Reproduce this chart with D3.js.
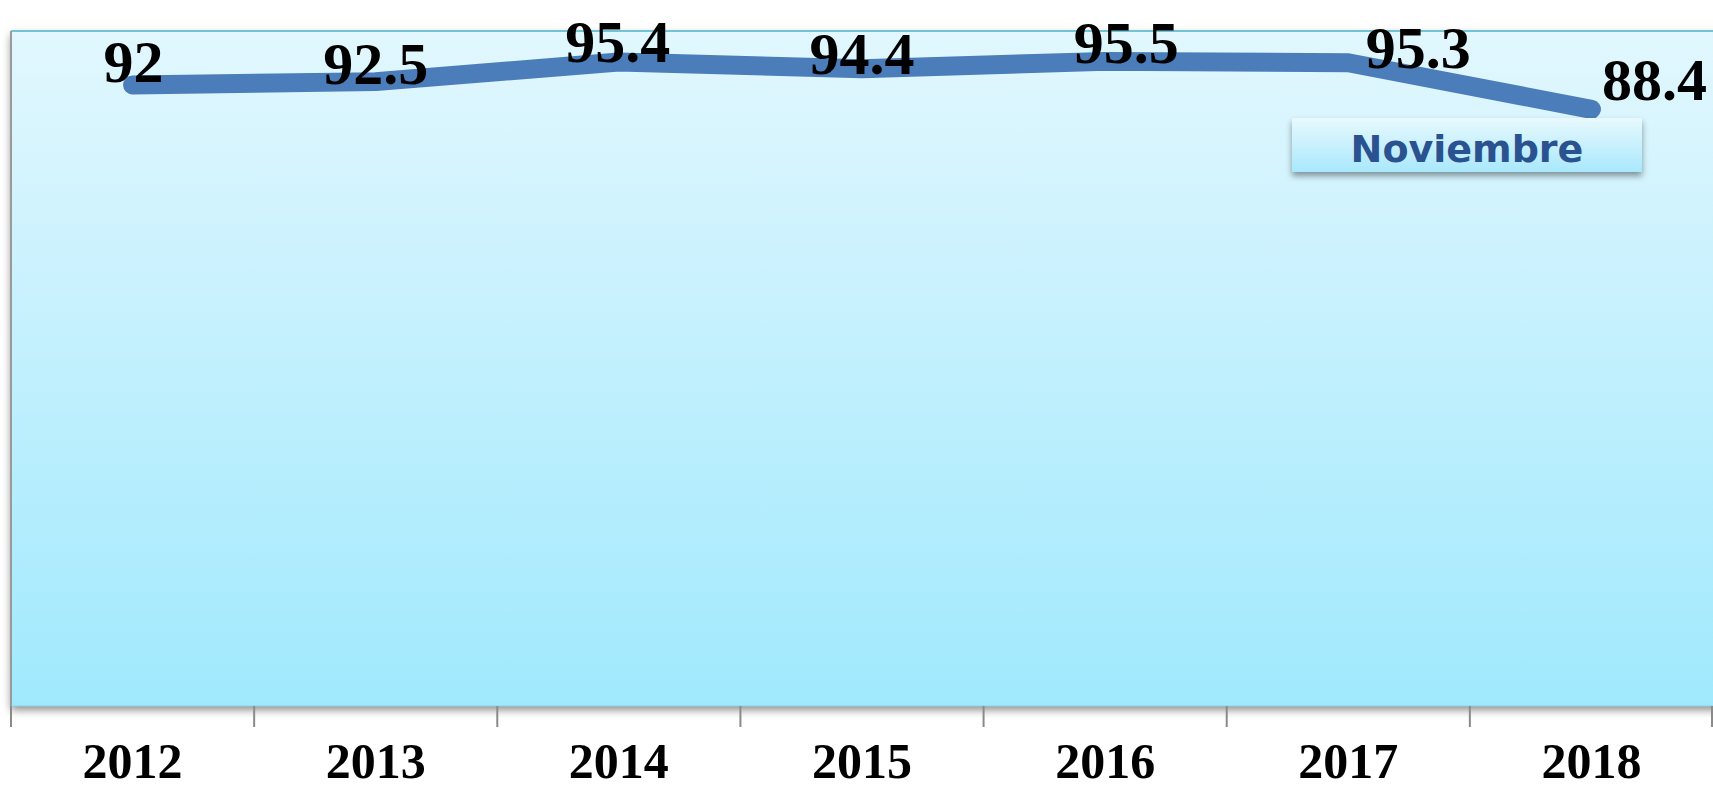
<!DOCTYPE html>
<html>
<head>
<meta charset="utf-8">
<script src="https://cdn.jsdelivr.net/npm/d3@7"></script>
<style>
  html, body { margin: 0; padding: 0; background: #ffffff; }
  svg { display: block; }
</style>
</head>
<body>
<svg id="chart" width="1713" height="790"></svg>
<script>
// ---- data ----
const years = ["2012", "2013", "2014", "2015", "2016", "2017", "2018"];
const values = [92, 92.5, 95.4, 94.4, 95.5, 95.3, 88.4];
const seriesName = "Noviembre";

// label nudges (layout only, px): [dx, dy]
const labelNudge = [[1, -3], [0, 2], [-1, 0], [0, 5], [21, 2], [70, 5], [63, -9]];

const W = 1713, H = 790;
const plot = { left: 11, top: 31, right: 1713, bottom: 706 };

const svg = d3.select("#chart");
const defs = svg.append("defs");

const bg = defs.append("linearGradient").attr("id", "bgGrad")
  .attr("x1", 0).attr("y1", 0).attr("x2", 0).attr("y2", 1);
bg.append("stop").attr("offset", "0%").attr("stop-color", "#e2f7fe");
bg.append("stop").attr("offset", "100%").attr("stop-color", "#a0e9fd");

const lg = defs.append("linearGradient").attr("id", "lgGrad")
  .attr("x1", 0).attr("y1", 0).attr("x2", 0).attr("y2", 1);
lg.append("stop").attr("offset", "0%").attr("stop-color", "#e8f9fe");
lg.append("stop").attr("offset", "100%").attr("stop-color", "#a9e8fc");

const sh = defs.append("filter").attr("id", "shadow")
  .attr("x", "-5%").attr("y", "-5%").attr("width", "110%").attr("height", "115%");
sh.append("feDropShadow").attr("dx", 0).attr("dy", 4).attr("stdDeviation", 4)
  .attr("flood-color", "#000").attr("flood-opacity", 0.45);

const sh2 = defs.append("filter").attr("id", "shadow2")
  .attr("x", "-10%").attr("y", "-20%").attr("width", "120%").attr("height", "160%");
sh2.append("feDropShadow").attr("dx", 0).attr("dy", 4).attr("stdDeviation", 3)
  .attr("flood-color", "#000").attr("flood-opacity", 0.4);

// scales
const x = d3.scaleBand().domain(years).range([plot.left, plot.right]).padding(0);
const y = d3.scaleLinear().domain([0, 100]).range([plot.bottom, plot.top]);

// plot area
svg.append("rect")
  .attr("x", plot.left).attr("y", plot.top)
  .attr("width", plot.right - plot.left + 20).attr("height", plot.bottom - plot.top)
  .attr("fill", "url(#bgGrad)")
  .attr("filter", "url(#shadow)");

// top border
svg.append("line")
  .attr("x1", plot.left).attr("x2", W).attr("y1", plot.top).attr("y2", plot.top)
  .attr("stroke", "#4bb3c8").attr("stroke-width", 1.5);
// left border
svg.append("line")
  .attr("x1", plot.left).attr("x2", plot.left).attr("y1", plot.top).attr("y2", plot.bottom)
  .attr("stroke", "#9a9a9a").attr("stroke-width", 2);
// bottom edge
svg.append("line")
  .attr("x1", plot.left).attr("x2", W).attr("y1", plot.bottom).attr("y2", plot.bottom)
  .attr("stroke", "#8fcfe3").attr("stroke-width", 1);

// tick marks at band boundaries
const boundaries = years.map(d => x(d)).concat([x.range()[1] - 1]);
svg.append("g").selectAll("line").data(boundaries).join("line")
  .attr("x1", d => d).attr("x2", d => d)
  .attr("y1", plot.bottom).attr("y2", plot.bottom + 21)
  .attr("stroke", "#8a8a8a").attr("stroke-width", 2);

// x axis labels
const xAxis = d3.axisBottom(x).tickSize(0).tickPadding(0);
const gx = svg.append("g").attr("transform", `translate(0,${plot.bottom})`).call(xAxis);
gx.select(".domain").remove();
gx.selectAll("text")
  .attr("y", 72).attr("dy", 0)
  .attr("font-family", "'Liberation Serif', 'Times New Roman', serif")
  .attr("font-weight", "bold")
  .attr("font-size", 50)
  .attr("fill", "#000");

// line
const line = d3.line()
  .x((d, i) => x(years[i]) + x.bandwidth() / 2)
  .y(d => y(d));

svg.append("path")
  .datum(values)
  .attr("d", line)
  .attr("fill", "none")
  .attr("stroke", "#4a7dba")
  .attr("stroke-width", 19)
  .attr("stroke-linejoin", "round")
  .attr("stroke-linecap", "round");

// data labels
svg.append("g").selectAll("text").data(values).join("text")
  .attr("x", (d, i) => x(years[i]) + x.bandwidth() / 2 + labelNudge[i][0])
  .attr("y", (d, i) => y(d) + labelNudge[i][1])
  .attr("text-anchor", "middle")
  .attr("font-family", "'Liberation Serif', 'Times New Roman', serif")
  .attr("font-weight", "bold")
  .attr("font-size", 60)
  .attr("fill", "#000")
  .text(d => d);

// legend box
const legend = svg.append("g");
legend.append("rect")
  .attr("x", 1292).attr("y", 118).attr("width", 350).attr("height", 54)
  .attr("fill", "url(#lgGrad)")
  .attr("filter", "url(#shadow2)");
legend.append("text")
  .attr("x", 1467).attr("y", 162)
  .attr("text-anchor", "middle")
  .attr("font-family", "'DejaVu Sans', Verdana, sans-serif")
  .attr("font-weight", "bold")
  .attr("font-size", 38)
  .attr("fill", "#2a5190")
  .text(seriesName);
</script>
</body>
</html>
